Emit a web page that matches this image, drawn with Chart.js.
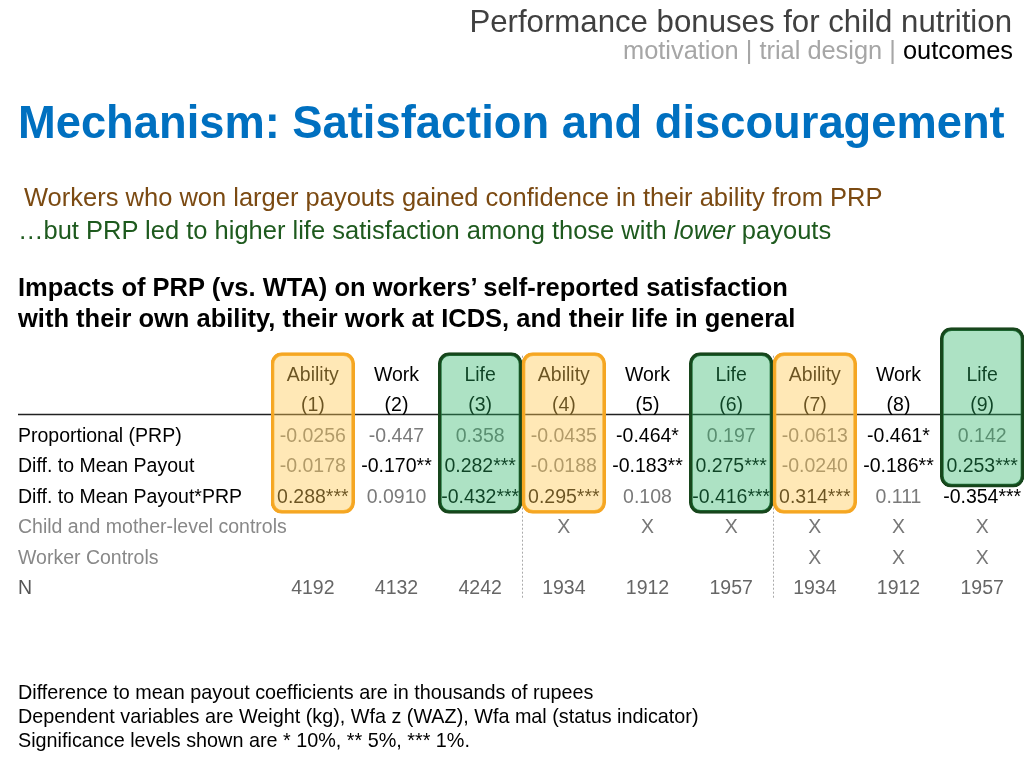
<!DOCTYPE html>
<html><head><meta charset="utf-8">
<script src="https://cdn.jsdelivr.net/npm/chart.js@4.4.1/dist/chart.umd.min.js"></script>
<style>
html,body{margin:0;padding:0;background:#fff;}
#wrap{position:relative;width:1024px;height:768px;overflow:hidden;font-family:"Liberation Sans",Arial,sans-serif;}
#wrap canvas{position:absolute;left:0;top:0;}
.t{position:absolute;white-space:nowrap;line-height:1;}
</style></head>
<body>
<div id="wrap">
<canvas id="c" width="1024" height="768"></canvas>
<div class="t" style="right:12px;top:6px;font-size:31.2px;color:#404040;">Performance bonuses for child nutrition</div>
<div class="t" style="right:11px;top:38px;font-size:25.4px;color:#a6a6a6;">motivation | trial design | <span style="color:#000">outcomes</span></div>
<div class="t" style="left:18px;top:99.6px;font-size:45.3px;font-weight:bold;color:#0070C0;">Mechanism: Satisfaction and discouragement</div>
<div class="t" style="left:24px;top:185px;font-size:25.5px;color:#7B4A12;">Workers who won larger payouts gained confidence in their ability from PRP</div>
<div class="t" style="left:18px;top:218.4px;font-size:25.5px;color:#1E5A1E;">…but PRP led to higher life satisfaction among those with <i>lower</i> payouts</div>
<div class="t" style="left:18px;top:271.7px;font-size:25.5px;font-weight:bold;color:#000;line-height:31px;">Impacts of PRP (vs. WTA) on workers’ self-reported satisfaction<br>with their own ability, their work at ICDS, and their life in general</div>
<div class="t" style="left:18px;top:680px;font-size:19.8px;color:#000;line-height:24px;">Difference to mean payout coefficients are in thousands of rupees<br>Dependent variables are Weight (kg), Wfa z (WAZ), Wfa mal (status indicator)<br>Significance levels shown are * 10%, ** 5%, *** 1%.</div>
</div>
<script>
// ---- table data ----
const colHeads = ['Ability','Work','Life','Ability','Work','Life','Ability','Work','Life'];
const colNums = ['(1)','(2)','(3)','(4)','(5)','(6)','(7)','(8)','(9)'];
const rowLabels = ['Proportional (PRP)','Diff. to Mean Payout','Diff. to Mean Payout*PRP','Child and mother-level controls','Worker Controls','N'];
const prpCoef   = ['-0.0256','-0.447','0.358','-0.0435','-0.464*','0.197','-0.0613','-0.461*','0.142'];
const diffCoef  = ['-0.0178','-0.170**','0.282***','-0.0188','-0.183**','0.275***','-0.0240','-0.186**','0.253***'];
const interCoef = ['0.288***','0.0910','-0.432***','0.295***','0.108','-0.416***','0.314***','0.111','-0.354***'];
const childCtrl = ['','','','X','X','X','X','X','X'];
const workerCtrl= ['','','','','','','X','X','X'];
const nObs = ['4192','4132','4242','1934','1912','1957','1934','1912','1957'];
// highlight boxes (row-unit spans: header row = -2, first coefficient row = 0)
const abilityBoxes = [[-2.7,2.57],null,null,[-2.7,2.57],null,null,[-2.7,2.57],null,null];
const lifeBoxes    = [null,null,[-2.7,2.57],null,null,[-2.7,2.57],null,null,[-3.52,1.71]];

const coefRows = [prpCoef, diffCoef, interCoef];
const ctrlRows = [childCtrl, workerCtrl];
const FONT = '"Liberation Sans", Arial, sans-serif';

const tablePlugin = {
  id: 'tableText',
  beforeDatasetsDraw(chart) {
    const ctx = chart.ctx, x = chart.scales.x, y = chart.scales.y;
    const ty = v => y.getPixelForValue(v) + 1.5;
    ctx.save();
    ctx.textBaseline = 'middle';
    // rule
    ctx.strokeStyle = '#222'; ctx.lineWidth = 1.3;
    const ry = Math.round(y.getPixelForValue(-0.68)) + 0.5;
    ctx.beginPath(); ctx.moveTo(18, ry); ctx.lineTo(1022, ry); ctx.stroke();
    // dotted separators
    ctx.strokeStyle = '#aaa'; ctx.lineWidth = 1; ctx.setLineDash([2,2]);
    [2.5, 5.5].forEach(v => {
      const px = Math.round((x.getPixelForValue(Math.floor(v)) + x.getPixelForValue(Math.ceil(v))) / 2) + 0.5;
      ctx.beginPath(); ctx.moveTo(px, y.getPixelForValue(-2.6)); ctx.lineTo(px, y.getPixelForValue(5.35)); ctx.stroke();
    });
    ctx.setLineDash([]);
    ctx.font = '19.5px ' + FONT;
    // headers
    ctx.textAlign = 'center';
    colHeads.forEach((h, i) => {
      ctx.fillStyle = '#000';
      ctx.fillText(h, x.getPixelForValue(i), ty(-2.0));
      ctx.fillText(colNums[i], x.getPixelForValue(i), ty(-1.0));
    });
    // row labels
    ctx.textAlign = 'left';
    rowLabels.forEach((l, r) => {
      ctx.fillStyle = r < 3 ? '#000' : (r < 5 ? '#888' : '#555');
      ctx.fillText(l, 18, ty(r));
    });
    // values
    ctx.textAlign = 'center';
    coefRows.forEach((row, r) => {
      row.forEach((v, i) => {
        ctx.fillStyle = v.indexOf('*') >= 0 ? '#000' : '#7a7a7a';
        ctx.fillText(v, x.getPixelForValue(i), ty(r));
      });
    });
    ctrlRows.forEach((row, r) => {
      row.forEach((v, i) => {
        ctx.fillStyle = '#777';
        if (v) ctx.fillText(v, x.getPixelForValue(i), ty(3 + r));
      });
    });
    nObs.forEach((v, i) => {
      ctx.fillStyle = '#666';
      ctx.fillText(v, x.getPixelForValue(i), ty(5));
    });
    ctx.restore();
  }
};

new Chart(document.getElementById('c'), {
  type: 'bar',
  data: {
    labels: colNums,
    datasets: [
      { data: abilityBoxes, backgroundColor: 'rgba(255,200,80,0.42)', borderColor: '#F5A623', borderWidth: 3, borderRadius: 11, borderSkipped: false, grouped: false, barPercentage: 1, categoryPercentage: 1 },
      { data: lifeBoxes, backgroundColor: 'rgba(40,180,100,0.38)', borderColor: '#17461C', borderWidth: 3, borderRadius: 11, borderSkipped: false, grouped: false, barPercentage: 1, categoryPercentage: 1 }
    ]
  },
  options: {
    responsive: false,
    animation: false,
    layout: { padding: { left: 271, right: 0, top: 313, bottom: 150 } },
    plugins: { legend: { display: false }, tooltip: { enabled: false } },
    scales: {
      x: { type: 'category', display: false, offset: true },
      y: { type: 'linear', display: false, reverse: true, min: -4, max: 6 }
    }
  },
  plugins: [tablePlugin]
});
</script>
</body></html>
